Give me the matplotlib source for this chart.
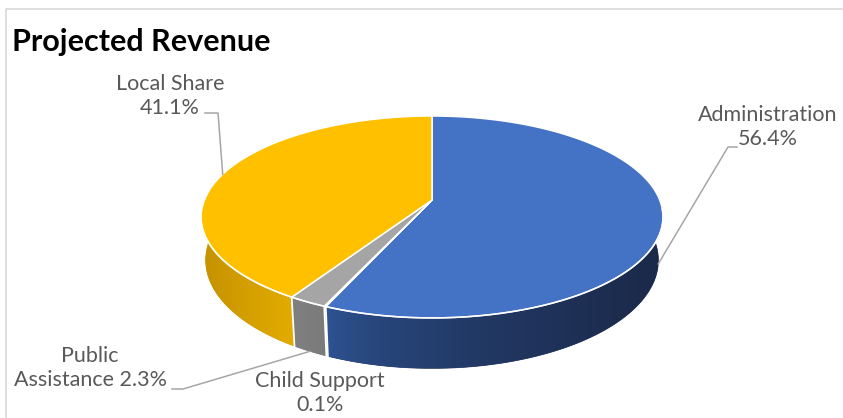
import numpy as np
import matplotlib
matplotlib.use("Agg")
import matplotlib.pyplot as plt
from matplotlib.patches import Polygon

# ---- data ----
title = "Projected Revenue"
categories = ["Administration", "Child Support", "Public Assistance", "Local Share"]
shares = [56.4, 0.1, 2.3, 41.1]
label_formats = ["Administration\n{:.1f}%", "Child Support\n{:.1f}%",
                 "Public\nAssistance {:.1f}%", "Local Share\n{:.1f}%"]

# ---- style ----
top_colors = ["#4472C4", "#ED7D31", "#A5A5A5", "#FFC000"]
# side gradient (left colour, right colour, gamma) for each slice
side_grad = [((47, 86, 152), (27, 41, 73), 0.55),
             ((190, 95, 35), (180, 90, 30), 1.0),
             ((128, 128, 128), (122, 122, 122), 1.0),
             ((196, 146, 0), (228, 172, 0), 1.0)]
text_color = "#595959"
leader_color = "#A6A6A6"
FONT = ["Lato", "DejaVu Sans"]

# projected disc geometry (pixel space)
CX, CY0 = 432.0, 200.0
A, B, K, D = 227.7, 98.1, 0.168, 42.0
BOTTOM_SHRINK = 0.98

label_pos = [(768, 127), (320, 393), (90, 368), (170, 96)]
leader_elbows = [[(737, 147), (728, 147)], None,
                 [(172, 389), (183, 389)], [(205, 113), (218, 113)]]


def rim(phi_deg, bottom=False):
    p = np.radians(phi_deg)
    u, v = np.cos(p), np.sin(p)
    w = 1.0 + K * v
    x = CX + A * u / w
    y = CY0 - B * v / w
    if bottom:
        x = CX + (x - CX) * BOTTOM_SHRINK
        y = y + D / w
    return x, y


fig = plt.figure(figsize=(8.43, 4.18), dpi=100)
ax = fig.add_axes([0, 0, 1, 1])
ax.axis("off")

# chart frame
ax.plot([5.5, 5.5, 843], [420, 8.5, 8.5], color="#D9D9D9", lw=1.2,
        solid_capstyle="butt", zorder=1)

total = float(sum(shares))
sweeps = [360.0 * s / total for s in shares]
bounds = [90.0]
for s in sweeps:
    bounds.append(bounds[-1] - s)

# ---- side wall (front half), one shaded band per slice ----
for i in range(len(shares)):
    hi = min(bounds[i], 0.0)
    lo = max(bounds[i + 1], -180.0)
    if hi <= lo:
        continue
    phis = np.linspace(hi, lo, max(4, int((hi - lo) * 3) + 2))
    top_arc = [rim(p) for p in phis]
    bot_arc = [rim(p, True) for p in phis[::-1]]
    poly = top_arc + bot_arc
    xs = [p[0] for p in poly]
    ys = [p[1] for p in poly]
    x0, x1 = min(xs), max(xs)
    y0, y1 = min(ys), max(ys)
    c_left, c_right, gam = side_grad[i]
    n = 256
    t = np.linspace(0, 1, n) ** gam
    row = np.array([[(c_left[k] + (c_right[k] - c_left[k]) * tt) / 255.0
                     for k in range(3)] for tt in t])
    img = row[np.newaxis, :, :]
    mid_col = row[n // 2]
    patch = Polygon(poly, closed=True, facecolor=mid_col, edgecolor=mid_col,
                    lw=0.5, zorder=2)
    ax.add_patch(patch)
    im = ax.imshow(img, extent=(x0, x1, y1, y0), aspect="auto",
                   interpolation="bilinear", zorder=2.1)
    im.set_clip_path(patch)

# white seams between slices on the wall
for b in bounds[1:-1]:
    if np.sin(np.radians(b)) < 0:
        tx, ty = rim(b)
        bx, by = rim(b, True)
        ax.plot([tx, bx], [ty, by], color="white", lw=1.3, zorder=3)

# ---- top faces ----
for i in range(len(shares)):
    a0, a1 = bounds[i], bounds[i + 1]
    phis = np.linspace(a0, a1, max(3, int(abs(a1 - a0) * 3) + 2))
    pts = [(CX, CY0)] + [rim(p) for p in phis]
    ax.add_patch(Polygon(pts, closed=True, facecolor=top_colors[i],
                         edgecolor="white", lw=1.1, joinstyle="round",
                         zorder=4))

# front rim highlight
phis = np.linspace(-5, -185, 300)
rx, ry = zip(*[rim(p) for p in phis])
ax.plot(rx, ry, color="white", lw=1.1, alpha=0.9, zorder=5)

# ---- labels and leader lines ----
for i in range(len(shares)):
    txt = label_formats[i].format(shares[i])
    lx, ly = label_pos[i]
    ax.text(lx, ly, txt, ha="center", va="center", multialignment="center",
            fontsize=15.5, color=text_color, family=FONT, linespacing=1.25,
            zorder=6)
    if leader_elbows[i] is not None:
        mid = 0.5 * (bounds[i] + bounds[i + 1])
        on_bottom = np.sin(np.radians(mid)) < 0
        axp, ayp = rim(mid, on_bottom)
        xs = [p[0] for p in leader_elbows[i]] + [axp]
        ys = [p[1] for p in leader_elbows[i]] + [ayp]
        ax.plot(xs, ys, color=leader_color, lw=1.1, zorder=6)

ax.text(12, 51, title, ha="left", va="baseline", fontsize=22,
        fontweight="bold", color="#000000", family=FONT, zorder=6)

ax.set_xlim(0, 843)
ax.set_ylim(418, 0)

fig.savefig("out.png", dpi=100)
